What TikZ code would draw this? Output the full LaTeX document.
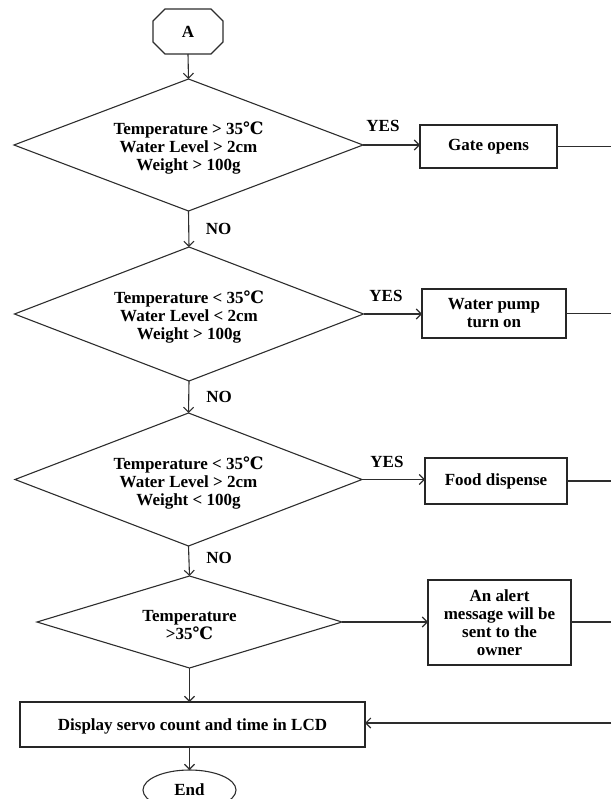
\documentclass[tikz,border=0pt]{standalone}
\usepackage{fontspec}
\setmainfont{Liberation Serif}
\newfontfamily\degfont{DejaVu Serif}
\usetikzlibrary{shapes.geometric,arrows.meta}
\newcommand\myfs{\fontsize{17}{18}\selectfont\bfseries}
\newcommand\degc{{\degfont\bfseries ℃}}
\definecolor{linec}{RGB}{45,45,45}
\tikzset{
  base/.style={draw=linec, line width=1.1pt, font=\myfs, text=black, inner sep=0pt, outer sep=0pt, align=center},
  dec/.style={base, diamond, shape aspect=3},
  proc/.style={base, rectangle, line width=1.4pt, draw=black!85},
  flow/.style={draw=linec, line width=1.1pt, -{Straight Barb[length=5pt,width=10pt]}},
  plain/.style={draw=linec, line width=1.1pt},
  lab/.style={font=\myfs, text=black, inner sep=0pt, align=center}
}
\begin{document}
\begin{tikzpicture}[x=1pt,y=-1pt]
\useasboundingbox (0,0) rectangle (611,799);
% start octagon
\node[proc, draw=none, minimum width=70pt, minimum height=45pt] (A) at (188,31.5) {A};
\draw[plain] ([xshift=12pt]A.north west) -- ([xshift=-12pt]A.north east) -- ([yshift=-12pt]A.north east)
  -- ([yshift=12pt]A.south east) -- ([xshift=-12pt]A.south east) -- ([xshift=12pt]A.south west)
  -- ([yshift=12pt]A.south west) -- ([yshift=-12pt]A.north west) -- cycle;
% decisions (shapes) and their texts
\node[dec, minimum width=349pt, minimum height=132pt] (d1) at (188.5,145) {};
\node[lab] (d1t) at (188.5,148.3) {Temperature > 35\degc\\Water Level > 2cm\\Weight > 100g};
\node[dec, minimum width=349pt, minimum height=134pt] (d2) at (189,314) {};
\node[lab] (d2t) at (189,317) {Temperature < 35\degc\\Water Level < 2cm\\Weight > 100g};
\node[dec, minimum width=347pt, minimum height=133pt] (d3) at (188.5,479.5) {};
\node[lab] (d3t) at (188.5,483.3) {Temperature < 35\degc\\Water Level > 2cm\\Weight < 100g};
\node[dec, minimum width=305pt, minimum height=92pt] (d4) at (189.5,622) {};
\node[lab] (d4t) at (189.5,625) {Temperature\\>35\degc};
% processes
\node[proc, minimum width=137pt, minimum height=43pt] (gate) at (488.5,146.5) {Gate opens};
\node[proc, minimum width=144pt, minimum height=49pt] (pump) at (494,313.5) {Water pump\\turn on};
\node[proc, minimum width=142pt, minimum height=46pt] (food) at (496,481) {Food dispense};
\node[proc, minimum width=143pt, minimum height=85pt] (alert) at (499.5,622.5) {An alert\\message will be\\sent to the\\owner};
\node[proc, minimum width=345pt, minimum height=45pt] (disp) at (192.5,724.5) {};
\node[lab] (dispt) at (192.5,726) {Display servo count and time in LCD};
\node[base, ellipse, minimum width=93pt, minimum height=40pt] (end) at (189.5,790) {End};
% labels
\node[lab] (y1) at (383,126) {YES};
\node[lab] (y2) at (386,296) {YES};
\node[lab] (y3) at (387,462) {YES};
\node[lab] (n1) at (218.5,229) {NO};
\node[lab] (n2) at (219,397) {NO};
\node[lab] (n3) at (219,558) {NO};
% right edge coordinates
\coordinate (r1) at (611,146.5);
\coordinate (r2) at (611,313.5);
\coordinate (r3) at (611,481);
\coordinate (r4) at (611,622);
\coordinate (r5) at (611,723);
% connectors
\draw[flow] (A.south) -- (d1.north);
\draw[flow] (d1.south) -- (d2.north);
\draw[flow] (d2.south) -- (d3.north);
\draw[flow] (d3.south) -- (d4.north);
\draw[flow] (d4.south) -- (disp.north -| d4.south);
\draw[flow] (disp.south -| end.north) -- (end.north);
\draw[flow] (d1.east) -- (gate.west |- d1.east);
\draw[flow] (d2.east) -- (pump.west |- d2.east);
\draw[flow] (d3.east) -- (food.west |- d3.east);
\draw[flow] (d4.east) -- (alert.west |- d4.east);
\draw[plain] (gate.east |- r1) -- (r1);
\draw[plain] (pump.east |- r2) -- (r2);
\draw[plain] (food.east |- r3) -- (r3);
\draw[plain] (alert.east |- r4) -- (r4);
\draw[flow] (r5) -- (disp.east |- r5);
\end{tikzpicture}
\end{document}
